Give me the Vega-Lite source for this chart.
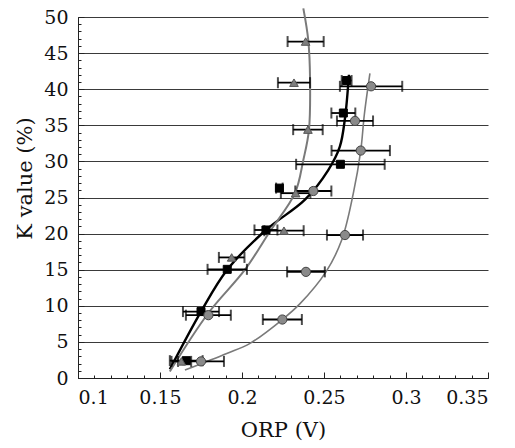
{
  "$schema": "https://vega.github.io/schema/vega-lite/v6.json",
  "width": 410,
  "height": 361,
  "autosize": "none",
  "padding": {"left": 78, "top": 17, "right": 27, "bottom": 70},
  "background": "white",
  "config": {
    "view": {"stroke": null},
    "font": "DejaVu Serif",
    "axis": {
      "labelFont": "DejaVu Serif",
      "labelFontSize": 19,
      "labelColor": "#111",
      "titleFont": "DejaVu Serif",
      "titleFontSize": 21,
      "titleFontWeight": "normal",
      "titleColor": "#111",
      "domainColor": "#222",
      "tickColor": "#222"
    }
  },
  "datasets": {
    "pts": [
      {"series": "square", "k": 2.4, "orp": 0.166, "lo": 0.156, "hi": 0.176},
      {"series": "square", "k": 9.2, "orp": 0.175, "lo": 0.164, "hi": 0.186},
      {"series": "square", "k": 15.05, "orp": 0.191, "lo": 0.179, "hi": 0.203},
      {"series": "square", "k": 20.5, "orp": 0.2146, "lo": 0.2076, "hi": 0.2216},
      {"series": "square", "k": 26.3, "orp": 0.2228, "lo": 0.2208, "hi": 0.2248},
      {"series": "square", "k": 29.6, "orp": 0.26, "lo": 0.233, "hi": 0.287},
      {"series": "square", "k": 36.7, "orp": 0.2618, "lo": 0.2545, "hi": 0.2691},
      {"series": "square", "k": 41.2, "orp": 0.2638, "lo": 0.2608, "hi": 0.2668},
      {"series": "triangle", "k": 2.3, "orp": 0.163, "lo": 0.157, "hi": 0.169},
      {"series": "triangle", "k": 16.7, "orp": 0.1937, "lo": 0.1859, "hi": 0.2015},
      {"series": "triangle", "k": 20.4, "orp": 0.2256, "lo": 0.2136, "hi": 0.2376},
      {"series": "triangle", "k": 25.6, "orp": 0.2327, "lo": 0.2237, "hi": 0.2417},
      {"series": "triangle", "k": 34.4, "orp": 0.2402, "lo": 0.2312, "hi": 0.2492},
      {"series": "triangle", "k": 40.9, "orp": 0.2317, "lo": 0.2219, "hi": 0.2415},
      {"series": "triangle", "k": 46.6, "orp": 0.2388, "lo": 0.2278, "hi": 0.2498},
      {"series": "circle", "k": 2.3, "orp": 0.175, "lo": 0.161, "hi": 0.189},
      {"series": "circle", "k": 8.7, "orp": 0.1795, "lo": 0.1658, "hi": 0.1932},
      {"series": "circle", "k": 8.1, "orp": 0.2246, "lo": 0.2127, "hi": 0.2365},
      {"series": "circle", "k": 14.7, "orp": 0.239, "lo": 0.2275, "hi": 0.2505},
      {"series": "circle", "k": 19.8, "orp": 0.2628, "lo": 0.2518, "hi": 0.2738},
      {"series": "circle", "k": 25.9, "orp": 0.2435, "lo": 0.2325, "hi": 0.2545},
      {"series": "circle", "k": 31.5, "orp": 0.2724, "lo": 0.2546, "hi": 0.2902},
      {"series": "circle", "k": 35.6, "orp": 0.2689, "lo": 0.2579, "hi": 0.2799},
      {"series": "circle", "k": 40.4, "orp": 0.2787, "lo": 0.2597, "hi": 0.2977}
    ],
    "curves": [
      {"curve": "black", "k": 1.2, "orp": 0.156},
      {"curve": "black", "k": 9.2, "orp": 0.175},
      {"curve": "black", "k": 15, "orp": 0.191},
      {"curve": "black", "k": 20.5, "orp": 0.2146},
      {"curve": "black", "k": 24.7, "orp": 0.2384},
      {"curve": "black", "k": 28.8, "orp": 0.2526},
      {"curve": "black", "k": 32, "orp": 0.2596},
      {"curve": "black", "k": 36, "orp": 0.2628},
      {"curve": "black", "k": 42, "orp": 0.2652},
      {"curve": "grayL", "k": 0.9, "orp": 0.156},
      {"curve": "grayL", "k": 9, "orp": 0.1795},
      {"curve": "grayL", "k": 15, "orp": 0.2018},
      {"curve": "grayL", "k": 20.3, "orp": 0.217},
      {"curve": "grayL", "k": 25.6, "orp": 0.2323},
      {"curve": "grayL", "k": 30.2, "orp": 0.2374},
      {"curve": "grayL", "k": 34.3, "orp": 0.2408},
      {"curve": "grayL", "k": 41.3, "orp": 0.2415},
      {"curve": "grayL", "k": 46.8, "orp": 0.2404},
      {"curve": "grayL", "k": 51.2, "orp": 0.2374},
      {"curve": "grayR", "k": 1.1, "orp": 0.1652},
      {"curve": "grayR", "k": 3.4, "orp": 0.1907},
      {"curve": "grayR", "k": 4.8, "orp": 0.2049},
      {"curve": "grayR", "k": 8.1, "orp": 0.2246},
      {"curve": "grayR", "k": 10.3, "orp": 0.2354},
      {"curve": "grayR", "k": 14.7, "orp": 0.2512},
      {"curve": "grayR", "k": 19.1, "orp": 0.2608},
      {"curve": "grayR", "k": 25.6, "orp": 0.2679},
      {"curve": "grayR", "k": 31.5, "orp": 0.2724},
      {"curve": "grayR", "k": 36.5, "orp": 0.2746},
      {"curve": "grayR", "k": 42.2, "orp": 0.278}
    ]
  },
  "layer": [
    {
      "data": {"name": "pts"},
      "mark": {"type": "point", "opacity": 0},
      "encoding": {
        "x": {"field": "orp", "type": "quantitative",
          "scale": {"domain": [0.1, 0.35], "nice": false, "zero": false},
          "axis": {"orient": "bottom", "values": [0.1,0.11,0.12,0.13,0.14,0.15,0.16,0.17,0.18,0.19,0.2,0.21,0.22,0.23,0.24,0.25,0.26,0.27,0.28,0.29,0.3,0.31,0.32,0.33,0.34,0.35],
            "labels": false, "domain": false, "grid": false, "tickSize": -3, "title": null}},
        "y": {"field": "k", "type": "quantitative",
          "scale": {"domain": [0, 50], "nice": false, "zero": false},
          "axis": {"orient": "left", "values": [0,1,2,3,4,5,6,7,8,9,10,11,12,13,14,15,16,17,18,19,20,21,22,23,24,25,26,27,28,29,30,31,32,33,34,35,36,37,38,39,40,41,42,43,44,45,46,47,48,49,50],
            "labels": false, "domain": false, "grid": false, "tickSize": -3, "title": null}}
      }
    },
    {
      "data": {"name": "curves"},
      "mark": {"type": "line", "interpolate": "catmull-rom", "clip": false},
      "encoding": {
        "x": {"field": "orp", "type": "quantitative",
          "axis": {"orient": "bottom", "values": [0.1, 0.15, 0.2, 0.25, 0.3, 0.35], "format": "~g", "tickSize": -6, "grid": false,
            "labelPadding": 16, "title": "ORP (V)", "titlePadding": 12}},
        "y": {"field": "k", "type": "quantitative",
          "axis": {"orient": "left", "values": [0, 5, 10, 15, 20, 25, 30, 35, 40, 45, 50], "tickSize": -6, "grid": true,
            "gridColor": "#3a3a3a", "gridOpacity": 1, "gridWidth": 1, "labelPadding": 16, "title": "K value (%)", "titlePadding": 8, "titleY": 161}},
        "detail": {"field": "curve"},
        "order": {"field": "k", "type": "quantitative"},
        "color": {"field": "curve", "type": "nominal", "legend": null,
          "scale": {"domain": ["black", "grayL", "grayR"], "range": ["#000000", "#7a7a7a", "#7a7a7a"]}},
        "strokeWidth": {"field": "curve", "type": "nominal", "legend": null,
          "scale": {"domain": ["black", "grayL", "grayR"], "range": [2.4, 1.6, 1.6]}}
      }
    },
    {
      "data": {"name": "pts"},
      "mark": {"type": "rule", "color": "#000", "strokeWidth": 1.8},
      "encoding": {
        "x": {"field": "lo", "type": "quantitative", "axis": null},
        "x2": {"field": "hi"},
        "y": {"field": "k", "type": "quantitative", "axis": null}
      }
    },
    {
      "data": {"name": "pts"},
      "mark": {"type": "tick", "orient": "vertical", "color": "#000", "size": 11, "thickness": 2},
      "encoding": {
        "x": {"field": "lo", "type": "quantitative", "axis": null},
        "y": {"field": "k", "type": "quantitative", "axis": null}
      }
    },
    {
      "data": {"name": "pts"},
      "mark": {"type": "tick", "orient": "vertical", "color": "#000", "size": 11, "thickness": 2},
      "encoding": {
        "x": {"field": "hi", "type": "quantitative", "axis": null},
        "y": {"field": "k", "type": "quantitative", "axis": null}
      }
    },
    {
      "data": {"name": "pts"},
      "mark": {"type": "point", "filled": true, "opacity": 1, "strokeWidth": 1},
      "encoding": {
        "x": {"field": "orp", "type": "quantitative", "axis": null},
        "y": {"field": "k", "type": "quantitative", "axis": null},
        "shape": {"field": "series", "type": "nominal", "legend": null,
          "scale": {"domain": ["square", "triangle", "circle"], "range": ["square", "triangle-up", "circle"]}},
        "fill": {"field": "series", "type": "nominal", "legend": null,
          "scale": {"domain": ["square", "triangle", "circle"], "range": ["#000000", "#7d7d7d", "#8a8a8a"]}},
        "stroke": {"field": "series", "type": "nominal", "legend": null,
          "scale": {"domain": ["square", "triangle", "circle"], "range": ["#000000", "#555555", "#444444"]}},
        "size": {"field": "series", "type": "nominal", "legend": null,
          "scale": {"domain": ["square", "triangle", "circle"], "range": [64, 85, 75]}}
      }
    }
  ],
  "resolve": {"axis": {"x": "independent", "y": "independent"}}
}
